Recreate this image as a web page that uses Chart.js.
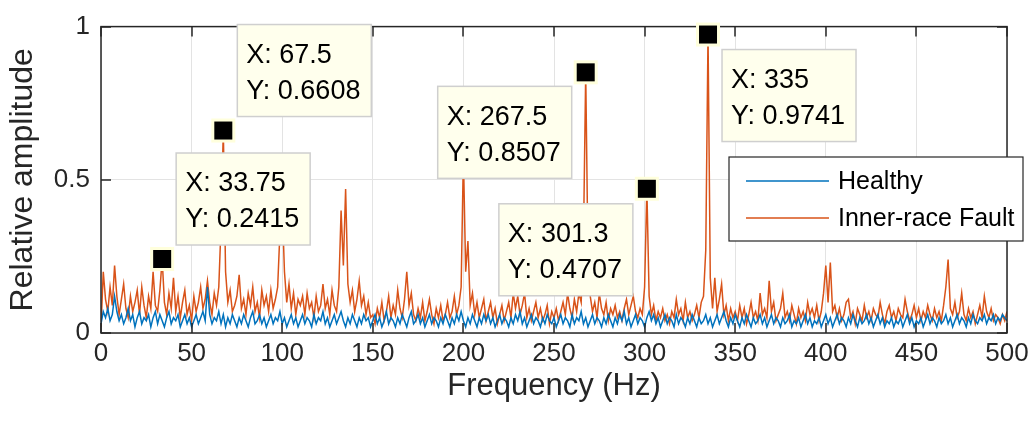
<!DOCTYPE html>
<html>
<head>
<meta charset="utf-8">
<script src="https://cdn.jsdelivr.net/npm/chart.js@4.4.1/dist/chart.umd.min.js"></script>
<style>
  body { margin: 0; background: #fff; }
  #wrap { width: 1034px; height: 426px; }
</style>
</head>
<body>
<div id="wrap"><canvas id="espectro" width="1034" height="426"></canvas></div>
<script>
// espectro normalizado, resolucao de 1.25 Hz (0 a 500 Hz)
const passoHz = 1.25;

const saudavel = [
  0.03, 0.07, 0.05, 0.08, 0.04, 0.06, 0.12, 0.07, 0.04, 0.06,
  0.03, 0.05, 0.08, 0.04, 0.06, 0.02, 0.05, 0.07, 0.03, 0.05,
  0.04, 0.06, 0.02, 0.05, 0.07, 0.03, 0.06, 0.04, 0.02, 0.05,
  0.07, 0.03, 0.05, 0.04, 0.06, 0.02, 0.04, 0.06, 0.03, 0.05,
  0.02, 0.04, 0.06, 0.03, 0.05, 0.07, 0.04, 0.15, 0.06, 0.03,
  0.05, 0.04, 0.07, 0.03, 0.06, 0.02, 0.05, 0.03, 0.06, 0.04,
  0.02, 0.05, 0.03, 0.06, 0.04, 0.02, 0.05, 0.07, 0.03, 0.04,
  0.06, 0.03, 0.05, 0.02, 0.04, 0.06, 0.03, 0.05, 0.04, 0.07,
  0.03, 0.05, 0.02, 0.04, 0.06, 0.03, 0.05, 0.02, 0.04, 0.06,
  0.03, 0.05, 0.04, 0.02, 0.06, 0.03, 0.05, 0.04, 0.07, 0.03,
  0.05, 0.02, 0.04, 0.06, 0.03, 0.05, 0.07, 0.04, 0.02, 0.05,
  0.03, 0.06, 0.04, 0.02, 0.05, 0.03, 0.06, 0.04, 0.05, 0.02,
  0.04, 0.06, 0.03, 0.05, 0.02, 0.04, 0.07, 0.03, 0.05, 0.04,
  0.02, 0.05, 0.03, 0.06, 0.04, 0.02, 0.05, 0.07, 0.03, 0.04,
  0.06, 0.03, 0.05, 0.02, 0.04, 0.06, 0.03, 0.05, 0.04, 0.02,
  0.05, 0.03, 0.06, 0.04, 0.02, 0.05, 0.03, 0.06, 0.04, 0.07,
  0.04, 0.02, 0.05, 0.03, 0.06, 0.04, 0.02, 0.05, 0.03, 0.06,
  0.04, 0.06, 0.03, 0.05, 0.02, 0.04, 0.06, 0.03, 0.05, 0.04,
  0.02, 0.05, 0.03, 0.06, 0.04, 0.07, 0.03, 0.05, 0.02, 0.04,
  0.06, 0.03, 0.05, 0.04, 0.02, 0.05, 0.03, 0.06, 0.04, 0.03,
  0.05, 0.02, 0.04, 0.06, 0.03, 0.05, 0.04, 0.02, 0.06, 0.03,
  0.05, 0.04, 0.07, 0.03, 0.05, 0.02, 0.04, 0.06, 0.03, 0.05,
  0.04, 0.02, 0.05, 0.03, 0.06, 0.04, 0.02, 0.05, 0.03, 0.06,
  0.04, 0.07, 0.03, 0.05, 0.02, 0.04, 0.06, 0.03, 0.05, 0.04,
  0.02, 0.05, 0.07, 0.04, 0.06, 0.03, 0.05, 0.02, 0.04, 0.06,
  0.03, 0.05, 0.04, 0.02, 0.06, 0.03, 0.05, 0.04, 0.02, 0.05,
  0.03, 0.06, 0.04, 0.02, 0.05, 0.03, 0.04, 0.06, 0.03, 0.05,
  0.02, 0.04, 0.06, 0.03, 0.05, 0.07, 0.04, 0.02, 0.05, 0.03,
  0.06, 0.04, 0.02, 0.05, 0.03, 0.06, 0.04, 0.02, 0.05, 0.03,
  0.04, 0.06, 0.03, 0.05, 0.02, 0.04, 0.06, 0.03, 0.05, 0.04,
  0.02, 0.05, 0.03, 0.04, 0.06, 0.02, 0.04, 0.03, 0.05, 0.02,
  0.04, 0.06, 0.03, 0.05, 0.02, 0.04, 0.03, 0.05, 0.02, 0.04,
  0.06, 0.03, 0.05, 0.02, 0.04, 0.06, 0.03, 0.05, 0.04, 0.02,
  0.05, 0.03, 0.06, 0.04, 0.02, 0.05, 0.03, 0.04, 0.06, 0.03,
  0.05, 0.02, 0.04, 0.06, 0.03, 0.05, 0.02, 0.04, 0.03, 0.05,
  0.02, 0.04, 0.03, 0.05, 0.02, 0.04, 0.06, 0.03, 0.05, 0.02,
  0.04, 0.03, 0.05, 0.02, 0.04, 0.06, 0.03, 0.05, 0.04, 0.02,
  0.05, 0.03, 0.04, 0.06, 0.03, 0.05, 0.02, 0.04, 0.06, 0.03,
  0.05, 0.04, 0.02, 0.05, 0.03, 0.06, 0.04, 0.03, 0.05, 0.04,
  0.06, 0.03, 0.05, 0.04, 0.06, 0.03, 0.05, 0.04, 0.06, 0.05,
  0.04
];

const falhaPistaInterna = [
  0.02, 0.20, 0.11, 0.07, 0.15, 0.09, 0.22, 0.12, 0.06, 0.11,
  0.16, 0.08, 0.05, 0.12, 0.07, 0.10, 0.14, 0.06, 0.15, 0.09,
  0.05, 0.12, 0.08, 0.20, 0.09, 0.07, 0.14, 0.2415, 0.10, 0.06,
  0.13, 0.08, 0.18, 0.07, 0.12, 0.05, 0.10, 0.14, 0.06, 0.09,
  0.04, 0.12, 0.07, 0.10, 0.15, 0.08, 0.11, 0.17, 0.10, 0.06,
  0.13, 0.09, 0.15, 0.35, 0.6608, 0.20, 0.10, 0.14, 0.07, 0.09,
  0.12, 0.19, 0.08, 0.11, 0.06, 0.13, 0.09, 0.15, 0.07, 0.10,
  0.05, 0.14, 0.09, 0.12, 0.07, 0.14, 0.08, 0.11, 0.15, 0.33,
  0.42, 0.20, 0.10, 0.16, 0.08, 0.13, 0.06, 0.11, 0.09, 0.12,
  0.06, 0.13, 0.08, 0.10, 0.05, 0.12, 0.07, 0.09, 0.16, 0.08,
  0.11, 0.06, 0.14, 0.09, 0.07, 0.15, 0.40, 0.22, 0.47, 0.16,
  0.10, 0.14, 0.07, 0.11, 0.17, 0.09, 0.12, 0.06, 0.10, 0.05,
  0.06, 0.03, 0.08, 0.05, 0.10, 0.04, 0.07, 0.12, 0.05, 0.09,
  0.06, 0.14, 0.08, 0.05, 0.11, 0.20, 0.09, 0.13, 0.06, 0.04,
  0.08, 0.05, 0.10, 0.04, 0.07, 0.11, 0.06, 0.03, 0.08, 0.05,
  0.09, 0.04, 0.06, 0.10, 0.05, 0.07, 0.12, 0.06, 0.09, 0.15,
  0.58, 0.20, 0.30, 0.09, 0.13, 0.06, 0.10, 0.05, 0.08, 0.11,
  0.04, 0.07, 0.10, 0.05, 0.08, 0.03, 0.06, 0.09, 0.04, 0.07,
  0.10, 0.05, 0.13, 0.08, 0.12, 0.06, 0.09, 0.13, 0.05, 0.08,
  0.04, 0.07, 0.10, 0.05, 0.08, 0.04, 0.06, 0.09, 0.03, 0.07,
  0.05, 0.08, 0.04, 0.07, 0.10, 0.06, 0.13, 0.08, 0.05, 0.11,
  0.07, 0.13, 0.10, 0.30, 0.8507, 0.25, 0.12, 0.07, 0.10, 0.05,
  0.13, 0.08, 0.06, 0.10, 0.04, 0.08, 0.06, 0.09, 0.05, 0.07,
  0.04, 0.08, 0.11, 0.06, 0.09, 0.12, 0.07, 0.05, 0.08, 0.06,
  0.15, 0.4707, 0.12, 0.06, 0.09, 0.04, 0.07, 0.05, 0.08, 0.04,
  0.06, 0.03, 0.07, 0.05, 0.11, 0.06, 0.08, 0.04, 0.10, 0.05,
  0.07, 0.04, 0.06, 0.09, 0.05, 0.10, 0.12, 0.27, 0.9741, 0.18,
  0.08, 0.18, 0.07, 0.11, 0.16, 0.06, 0.09, 0.04, 0.08, 0.05,
  0.07, 0.04, 0.09, 0.05, 0.08, 0.03, 0.06, 0.10, 0.05, 0.07,
  0.04, 0.13, 0.06, 0.08, 0.05, 0.17, 0.07, 0.10, 0.04, 0.06,
  0.08, 0.13, 0.05, 0.07, 0.04, 0.09, 0.06, 0.03, 0.08, 0.05,
  0.07, 0.04, 0.10, 0.06, 0.08, 0.05, 0.09, 0.04, 0.07, 0.13,
  0.22, 0.10, 0.23, 0.07, 0.09, 0.05, 0.08, 0.04, 0.06, 0.10,
  0.11, 0.05, 0.07, 0.03, 0.08, 0.06, 0.04, 0.09, 0.05, 0.07,
  0.04, 0.08, 0.06, 0.05, 0.10, 0.06, 0.03, 0.07, 0.09, 0.05,
  0.07, 0.04, 0.08, 0.06, 0.05, 0.11, 0.07, 0.04, 0.06, 0.09,
  0.05, 0.08, 0.04, 0.07, 0.05, 0.09, 0.06, 0.04, 0.08, 0.05,
  0.07, 0.04, 0.09, 0.15, 0.24, 0.08, 0.06, 0.10, 0.05, 0.07,
  0.13, 0.06, 0.04, 0.08, 0.05, 0.07, 0.03, 0.06, 0.09, 0.05,
  0.12, 0.07, 0.05, 0.08, 0.04, 0.06, 0.05, 0.03, 0.06, 0.04,
  0.07
];

// data tips marcados no grafico original
const dicaX = [33.75, 67.5, 267.5, 301.25, 335];
const dicaY = [0.2415, 0.6608, 0.8507, 0.4707, 0.9741];

const ticksX = [0, 50, 100, 150, 200, 250, 300, 350, 400, 450, 500];
const ticksY = [0, 0.5, 1];

const fonte = '"Liberation Sans", Arial, Helvetica, sans-serif';
const corTexto = '#262626';

function paraPontos(valores){
    return valores.map((v, i) => ({ x: i * passoHz, y: v }));
}

// caixa do eixo estilo matlab, com ticks para dentro
const eixoMatlab = {
    id: 'eixoMatlab',
    afterDatasetsDraw(chart){
        const { ctx, chartArea: a, scales } = chart;
        ctx.save();
        ctx.strokeStyle = corTexto;
        ctx.lineWidth = 1.5;
        ctx.strokeRect(a.left, a.top, a.right - a.left, a.bottom - a.top);
        ctx.beginPath();
        ticksX.forEach(t => {
            const px = Math.round(scales.x.getPixelForValue(t));
            ctx.moveTo(px, a.top); ctx.lineTo(px, a.top + 10);
            ctx.moveTo(px, a.bottom); ctx.lineTo(px, a.bottom - 10);
        });
        ticksY.forEach(t => {
            const py = Math.round(scales.y.getPixelForValue(t));
            ctx.moveTo(a.left, py); ctx.lineTo(a.left + 10, py);
            ctx.moveTo(a.right, py); ctx.lineTo(a.right - 10, py);
        });
        ctx.stroke();
        ctx.restore();
    }
};

// legenda e data tips desenhados por cima
const extras = {
    id: 'extras',
    afterDraw(chart, args, opts){
        const { ctx, scales } = chart;
        ctx.save();

        // legenda
        const L = opts.legenda;
        ctx.fillStyle = '#fff';
        ctx.fillRect(L.x, L.y, L.w, L.h);
        ctx.strokeStyle = corTexto;
        ctx.lineWidth = 1.2;
        ctx.strokeRect(L.x, L.y, L.w, L.h);
        ctx.font = L.fonte;
        ctx.textBaseline = 'middle';
        chart.data.datasets.forEach((ds, i) => {
            const ly = L.y + L.linha0 + i * L.passo;
            ctx.strokeStyle = ds.borderColor;
            ctx.lineWidth = 1.5;
            ctx.beginPath();
            ctx.moveTo(L.x + 17, ly); ctx.lineTo(L.x + 100, ly);
            ctx.stroke();
            ctx.fillStyle = '#000';
            ctx.fillText(ds.label, L.x + 109, ly + 1);
        });

        // data tips
        opts.dicas.forEach((d, i) => {
            const px = scales.x.getPixelForValue(dicaX[i]);
            const py = scales.y.getPixelForValue(dicaY[i]);
            const bx = px + d.dx, by = py + d.dy;
            ctx.fillStyle = 'rgb(255,255,237)';
            ctx.fillRect(bx, by, 134, 92);
            ctx.strokeStyle = '#cfcfcf';
            ctx.lineWidth = 1.5;
            ctx.strokeRect(bx, by, 134, 92);
            ctx.fillStyle = '#000';
            ctx.font = '27px ' + fonte;
            ctx.textBaseline = 'middle';
            ctx.fillText('X: ' + parseFloat(dicaX[i].toPrecision(4)), bx + 9, by + 31);
            ctx.fillText('Y: ' + dicaY[i], bx + 9, by + 67);

            ctx.fillStyle = 'rgb(255,255,220)';
            ctx.fillRect(px - 12, py - 12, 24, 24);
            ctx.fillStyle = '#000';
            ctx.fillRect(px - 9, py - 9, 18, 18);
        });
        ctx.restore();
    }
};

const grafico = new Chart(document.getElementById('espectro'), {
    type: 'line',
    data: {
        datasets: [{
            label: 'Healthy',
            data: paraPontos(saudavel),
            borderColor: '#0072BD',
            borderWidth: 1.5,
            pointRadius: 0,
            tension: 0
        }, {
            label: 'Inner-race Fault',
            data: paraPontos(falhaPistaInterna),
            borderColor: '#D95319',
            borderWidth: 1.5,
            pointRadius: 0,
            tension: 0
        }]
    },
    options: {
        responsive: false,
        animation: false,
        devicePixelRatio: 1,
        layout: { padding: { top: 20, right: 27, bottom: 0, left: 0 } },
        plugins: {
            legend: { display: false },
            tooltip: { enabled: false },
            extras: {
                legenda: { x: 729, y: 157, w: 294, h: 84, linha0: 24, passo: 37, fonte: '25px ' + fonte },
                dicas: [
                    { dx: 14, dy: -106 },
                    { dx: 14, dy: -106 },
                    { dx: -148, dy: 14 },
                    { dx: -148, dy: 15 },
                    { dx: 14, dy: 15 }
                ]
            }
        },
        scales: {
            x: {
                type: 'linear',
                min: 0,
                max: 500,
                afterBuildTicks: s => { s.ticks = ticksX.map(v => ({ value: v })); },
                afterFit: s => { s.height = 93; },
                grid: { color: '#e3e3e3', lineWidth: 1, drawTicks: false },
                border: { display: false },
                ticks: { color: corTexto, font: { family: fonte, size: 26 }, padding: 5, maxRotation: 0, callback: v => String(v) },
                title: { display: true, text: 'Frequency (Hz)', color: corTexto, font: { family: fonte, size: 31 }, padding: { bottom: 21 } }
            },
            y: {
                min: 0,
                max: 1,
                afterBuildTicks: s => { s.ticks = ticksY.map(v => ({ value: v })); },
                afterFit: s => { s.width = 101; },
                grid: { color: '#e3e3e3', lineWidth: 1, drawTicks: false },
                border: { display: false },
                ticks: { color: corTexto, font: { family: fonte, size: 26 }, padding: 11, callback: v => String(v) },
                title: { display: true, text: 'Relative amplitude', color: corTexto, font: { family: fonte, size: 32 }, padding: { top: 4 } }
            }
        }
    },
    plugins: [eixoMatlab, extras]
});
</script>
</body>
</html>
